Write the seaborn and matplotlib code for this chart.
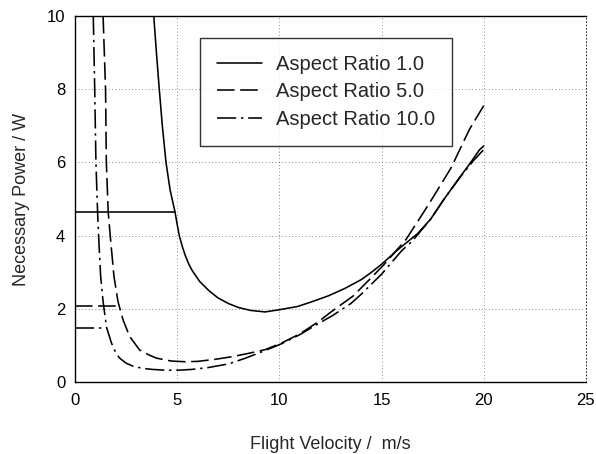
import matplotlib
matplotlib.use("Agg")
import matplotlib.pyplot as plt
from matplotlib.lines import Line2D
import numpy as np
import pandas as pd
import seaborn as sns

# Flight velocity (m/s) and necessary power (W) for three wing aspect ratios
v_ar1 = [3.85, 3.98, 4.12, 4.27, 4.45, 4.65, 4.89, 5.0, 5.1, 5.25, 5.4, 5.56, 5.73,
         6.1, 6.55, 7.0, 7.5, 8.0, 8.6, 9.3, 10.0, 10.9, 11.6, 12.4, 13.2, 14.0,
         14.5, 15.0, 15.8, 16.75, 17.4, 18.0, 18.7, 19.3, 19.8, 20.0]
p_ar1 = [10.0, 9.0, 8.0, 7.0, 6.0, 5.25, 4.65, 4.3, 4.0, 3.7, 3.45, 3.23, 3.05,
         2.75, 2.5, 2.3, 2.15, 2.04, 1.96, 1.92, 1.98, 2.07, 2.2, 2.36, 2.56, 2.8,
         3.0, 3.22, 3.62, 4.05, 4.45, 4.95, 5.5, 5.95, 6.35, 6.45]

v_ar5 = [1.37, 1.49, 1.53, 1.62, 1.72, 1.9, 2.1, 2.35, 2.67, 3.16, 3.6, 3.97, 4.7, 5.4,
         6.0, 6.9, 7.7, 8.5, 9.3, 10.1, 11.0, 11.9, 12.6, 13.6, 14.4, 15.1, 16.2,
         17.3, 18.4, 19.3, 20.0]
p_ar5 = [10.0, 8.0, 6.0, 4.65, 4.0, 2.9, 2.2, 1.7, 1.25, 0.88, 0.75, 0.66, 0.58, 0.56,
         0.57, 0.63, 0.7, 0.79, 0.89, 1.07, 1.32, 1.65, 1.95, 2.35, 2.8, 3.2, 3.9,
         4.85, 5.85, 6.9, 7.55]

v_ar10 = [0.89, 0.96, 1.02, 1.1, 1.15, 1.25, 1.37, 1.54, 1.78, 2.0, 2.18, 2.5, 2.83, 3.3,
          3.8, 4.4, 5.1, 5.7, 6.5, 7.5, 8.3, 9.0, 10.1, 11.0, 11.9, 12.6, 13.5, 14.0,
          15.0, 16.0, 16.5, 17.4, 18.0, 18.85, 19.5, 20.0]
p_ar10 = [10.0, 8.0, 6.0, 4.65, 4.0, 2.9, 2.2, 1.5, 1.07, 0.8, 0.66, 0.52, 0.44, 0.38,
          0.35, 0.33, 0.33, 0.35, 0.4, 0.5, 0.65, 0.8, 1.05, 1.3, 1.6, 1.82, 2.15, 2.4,
          2.95, 3.6, 3.85, 4.45, 4.95, 5.6, 6.05, 6.35]

# Low-speed plateau level of each curve and the velocity where it meets the curve
plateau_p = [4.65, 2.08, 1.48]
plateau_v = [4.89, 2.13, 1.55]

labels = ["Aspect Ratio 1.0", "Aspect Ratio 5.0", "Aspect Ratio 10.0"]

df = pd.concat([
    pd.DataFrame({"v": v_ar1, "P": p_ar1, "ar": labels[0]}),
    pd.DataFrame({"v": v_ar5, "P": p_ar5, "ar": labels[1]}),
    pd.DataFrame({"v": v_ar10, "P": p_ar10, "ar": labels[2]}),
])

sns.set_style("white")
plt.rcParams["font.family"] = ["Liberation Sans", "DejaVu Sans"]

dash_map = {labels[0]: "", labels[1]: (11, 3.5), labels[2]: (12, 3, 1.5, 3)}
LW = 1.15

fig = plt.figure(figsize=(5.96, 4.54), dpi=100)
ax = fig.add_axes([0.126, 0.158, 0.857, 0.807])

sns.lineplot(data=df, x="v", y="P", style="ar", dashes=dash_map, color="black",
             linewidth=LW, sort=False, estimator=None, legend=False, ax=ax)

# horizontal plateau segments at low speed
for lvl, vend, lab in zip(plateau_p, plateau_v, labels):
    d = dash_map[lab]
    ln, = ax.plot([0, vend], [lvl, lvl], color="black", linewidth=LW)
    if d:
        ln.set_dashes(d)

ax.set_xlim(0, 25)
ax.set_ylim(0, 10)
ax.set_xticks([0, 5, 10, 15, 20, 25])
ax.set_yticks([0, 2, 4, 6, 8, 10])
ax.tick_params(axis="both", direction="in", length=3, width=0.8, labelsize=12,
               colors="black")
ax.tick_params(axis="x", pad=8)
ax.tick_params(axis="y", pad=7)
ax.grid(True, linestyle=(0, (1, 3)), color="black", linewidth=0.6, alpha=0.6)

for side in ["left", "bottom", "top"]:
    ax.spines[side].set_visible(True)
    ax.spines[side].set_color("black")
    ax.spines[side].set_linewidth(1.0)
ax.spines["right"].set_visible(True)
ax.spines["right"].set_color("black")
ax.spines["right"].set_linewidth(0.6)
ax.spines["right"].set_linestyle((0, (1, 3)))

ax.set_xlabel("Flight Velocity /  m/s", fontsize=13, labelpad=20)
ax.set_ylabel("Necessary Power / W", fontsize=13, labelpad=12)

handles = []
for lab in labels:
    h = Line2D([0], [0], color="black", linewidth=LW)
    if dash_map[lab]:
        h.set_dashes(dash_map[lab])
    handles.append(h)
leg = ax.legend(handles, labels, loc="upper left", bbox_to_anchor=(0.245, 0.94),
                borderaxespad=0, fontsize=14.5, frameon=True, fancybox=False,
                handlelength=2.2, handletextpad=0.7, labelspacing=0.42,
                borderpad=0.85)
leg.get_frame().set_edgecolor("black")
leg.get_frame().set_linewidth(1.0)

fig.savefig("out.png", dpi=100)
